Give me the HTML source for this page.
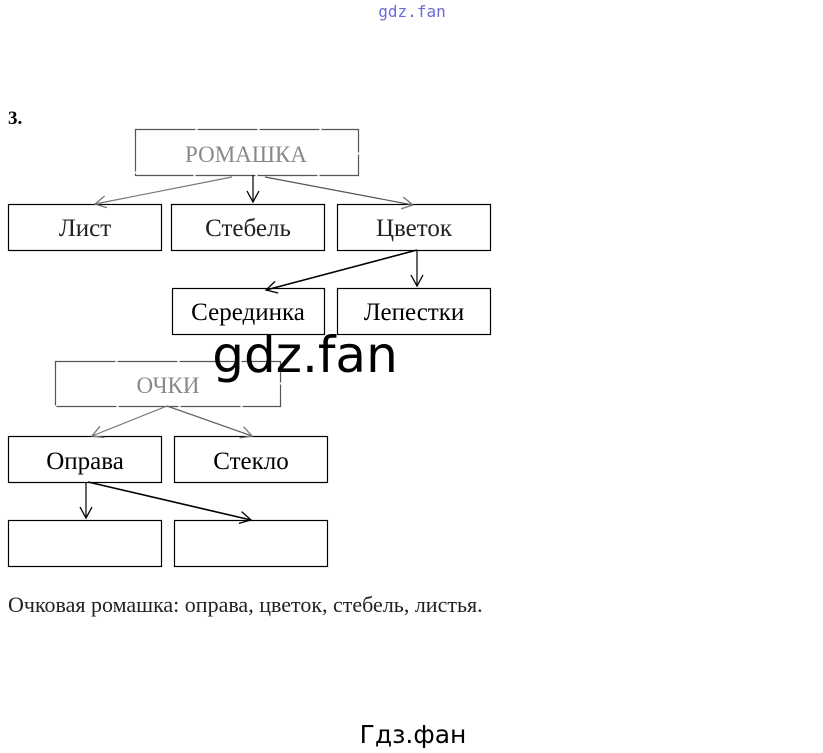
<!DOCTYPE html>
<html><head><meta charset="utf-8"><style>
body{margin:0;width:823px;height:753px;background:#fff;position:relative;overflow:hidden;font-family:"Liberation Serif",serif}
</style></head><body>
<svg width="823" height="753" style="position:absolute;left:0;top:0" font-family="Liberation Serif, serif">
<defs><marker id="a" markerWidth="14" markerHeight="14" refX="12" refY="7" orient="auto" markerUnits="userSpaceOnUse"><path d="M1,1 L12,7 L1,13" fill="none" stroke="#000" stroke-width="1.3"/></marker>
<marker id="g" markerWidth="14" markerHeight="14" refX="12" refY="7" orient="auto" markerUnits="userSpaceOnUse"><path d="M1,1 L12,7 L1,13" fill="none" stroke="#777" stroke-width="1.3"/></marker></defs>
<g fill="none" stroke="#000" stroke-width="1.2">
<rect x="135.5" y="129.5" width="223" height="46" stroke="#555" stroke-dasharray="60 2"/>
<rect x="8.5" y="204.5" width="153" height="46"/>
<rect x="171.5" y="204.5" width="153" height="46"/>
<rect x="337.5" y="204.5" width="153" height="46"/>
<rect x="172.5" y="288.5" width="152" height="46"/>
<rect x="337.5" y="288.5" width="153" height="46"/>
<rect x="55.5" y="361.5" width="225" height="45" stroke="#555" stroke-dasharray="60 2"/>
<rect x="8.5" y="436.5" width="153" height="46"/>
<rect x="174.5" y="436.5" width="153" height="46"/>
<rect x="8.5" y="520.5" width="153" height="46"/>
<rect x="174.5" y="520.5" width="153" height="46"/>
<line x1="232" y1="177" x2="95" y2="204" stroke="#777" marker-end="url(#g)"/>
<line x1="253" y1="175" x2="253" y2="202" marker-end="url(#a)"/>
<line x1="265" y1="177" x2="413" y2="205" stroke="#555" marker-end="url(#g)"/>
<line x1="417" y1="250" x2="266" y2="290" stroke-width="1.6" marker-end="url(#a)"/>
<line x1="417" y1="250" x2="417" y2="286" marker-end="url(#a)"/>
<line x1="167" y1="406" x2="92" y2="436" stroke="#777" marker-end="url(#g)"/>
<line x1="167" y1="406" x2="252" y2="436" stroke="#666" marker-end="url(#g)"/>
<line x1="86" y1="482" x2="86" y2="518" marker-end="url(#a)"/>
<line x1="88" y1="482" x2="251" y2="520" stroke-width="1.6" marker-end="url(#a)"/>
</g>
<g font-size="25" text-anchor="middle">
<text x="246" y="162" fill="#888" font-size="23">РОМАШКА</text>
<text x="85" y="236" fill="#222">Лист</text>
<text x="248" y="236" fill="#222">Стебель</text>
<text x="414" y="236" fill="#222">Цветок</text>
<text x="248" y="320">Серединка</text>
<text x="414" y="320">Лепестки</text>
<text x="168" y="393" fill="#888" font-size="23">ОЧКИ</text>
<text x="85" y="469">Оправа</text>
<text x="251" y="469">Стекло</text>
</g>
<text x="8" y="124" font-size="19" font-weight="bold">3.</text>
<text x="8" y="612" font-size="22" fill="#222">Очковая ромашка: оправа, цветок, стебель, листья.</text>
<text x="412" y="17" font-size="16" fill="#6a6ad8" text-anchor="middle" font-family="DejaVu Sans Mono, monospace">gdz.fan</text>
<text x="305" y="372" font-size="50" fill="#000" text-anchor="middle" font-family="DejaVu Sans, sans-serif">gdz.fan</text>
<text x="413" y="743" font-size="25" fill="#000" text-anchor="middle" font-family="DejaVu Sans, sans-serif">Гдз.фан</text>
</svg>
</body></html>
